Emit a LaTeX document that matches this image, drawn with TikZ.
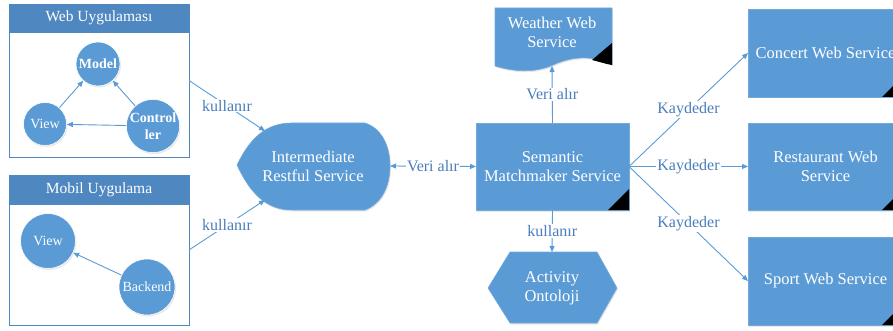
\documentclass[tikz,border=0pt]{standalone}
\usepackage{fontspec}
\setmainfont{Liberation Serif}
\usetikzlibrary{arrows.meta,shadows}
\definecolor{boxblue}{HTML}{5B9BD5}
\definecolor{hdrblue}{HTML}{4F87C0}
\definecolor{lblblue}{HTML}{4A7EBB}
\definecolor{linblue}{HTML}{5B9BD5}
\newcommand\fbig{\fontsize{16.5pt}{19pt}\selectfont}
\newcommand\fhdr{\fontsize{15.5pt}{18pt}\selectfont}
\newcommand\fcirc{\fontsize{14pt}{16.5pt}\selectfont}
\newcommand\flbl{\fontsize{16pt}{18pt}\selectfont}
\begin{document}
\begin{tikzpicture}[x=1pt,y=-1pt,
  shp/.style={fill=boxblue, draw=boxblue!85!white, line width=0.6pt,
    drop shadow={opacity=0.18, shadow xshift=1pt, shadow yshift=-1.5pt}},
  crc/.style={circle, fill=boxblue, draw=white, line width=0.6pt, text=white,
    inner sep=0pt, align=center, font=\fcirc,
    drop shadow={opacity=0.18, shadow xshift=1pt, shadow yshift=-1.5pt}},
  txt/.style={text=white, align=center, font=\fbig, inner sep=0pt},
  frame/.style={draw=hdrblue, line width=0.8pt, fill=white, inner sep=0pt, outer sep=0pt},
  hdr/.style={fill=hdrblue, draw=hdrblue, line width=0.8pt, text=white, font=\fhdr, inner sep=0pt, outer sep=0pt},
  rbox/.style={shp, rectangle, inner sep=0pt, outer sep=0pt, text=white, align=center, font=\fbig},
  conn/.style={draw=linblue, line width=0.9pt, -{Triangle[length=6pt,width=5pt]}},
  dconn/.style={draw=linblue, line width=0.9pt, {Triangle[length=6pt,width=5pt]}-{Triangle[length=6pt,width=5pt]}},
  lbl/.style={fill=white, text=lblblue, font=\flbl, inner sep=1pt}
]
\useasboundingbox (0,0) rectangle (893,331);
\clip (0,0) rectangle (893,331);

% Web Uygulamasi
\node[frame, minimum width=180pt, minimum height=153pt] (web) at (99,80.5) {};
\node[hdr, minimum width=180pt, minimum height=28pt] (webhdr) at (99,18) {Web Uygulaması};
\node[crc, minimum size=44pt, font=\fcirc\bfseries] (model) at (98,64) {Model};
\node[crc, minimum size=43pt] (wview) at (45,124) {View};
\node[crc, minimum size=47pt, font=\fcirc\bfseries] (ctrl) at (153,126) {Control\\ler};
\draw[conn] (wview) -- (model);
\draw[conn] (ctrl) -- (model);
\draw[conn] (ctrl) -- (wview);

% Mobil Uygulama
\node[frame, minimum width=180pt, minimum height=150pt] (mob) at (99,250) {};
\node[hdr, minimum width=180pt, minimum height=29pt] (mobhdr) at (99,189.5) {Mobil Uygulama};
\node[crc, minimum size=55pt] (mview) at (48,241) {View};
\node[crc, minimum size=56pt] (back) at (147,287) {Backend};
\draw[conn] (back) -- (mview);

% Intermediate Restful Service
\path[shp] (237,165) .. controls (250,138) and (266,123) .. (292,123) -- (365,123)
  .. controls (381,128) and (390,145) .. (390,166)
  .. controls (390,187) and (381,204) .. (365,210) -- (292,210)
  .. controls (266,210) and (250,193) .. (237,165) -- cycle;
\node[txt] (irs) at (313,166) {Intermediate\\Restful Service};
\coordinate (irsA) at (265,131);
\coordinate (irsB) at (265,200);
\coordinate (irsE) at (390,166);

% Semantic Matchmaker Service
\node[rbox, minimum width=153pt, minimum height=87pt] (sem) at (552.5,166.5) {Semantic\\Matchmaker Service};
\fill[black] (608,210) -- (629,189) -- (629,210) -- cycle;

% Weather Web Service
\path[shp] (495,8) -- (612,8) -- (612,65)
  .. controls (595,56) and (575,55) .. (553,65)
  .. controls (535,73) and (515,72) .. (495,66) -- cycle;
\fill[black] (592,60) .. controls (600,62) and (606,64) .. (612,65) -- (612,43) -- cycle;
\node[txt] (wth) at (552,32) {Weather Web\\Service};
\coordinate (wthS) at (552,66);

% Activity Ontoloji
\path[shp] (488,288) -- (510,252) -- (597,252) -- (617,288) -- (597,323) -- (510,323) -- cycle;
\node[txt] (act) at (552,288) {Activity\\Ontoloji};
\coordinate (actN) at (552,252);

% Right boxes
\node[rbox, minimum width=155pt, minimum height=88pt] (conc) at (825.5,53) {Concert Web Service};
\fill[black] (882,97) -- (903,76) -- (903,97) -- cycle;
\node[rbox, minimum width=155pt, minimum height=87pt] (rest) at (825.5,166.5) {Restaurant Web\\Service};
\fill[black] (882,210) -- (903,189) -- (903,210) -- cycle;
\node[rbox, minimum width=155pt, minimum height=88pt] (sport) at (825.5,281) {Sport Web Service};
\fill[black] (882,325) -- (903,304) -- (903,325) -- cycle;

% Connectors
\draw[conn] (web.east) -- node[lbl] {kullanır} (irsA);
\draw[conn] (mob.east) -- node[lbl] {kullanır} (irsB);
\draw[dconn] (irsE) -- node[lbl] {Veri alır} (sem.west);
\draw[conn] (sem.north) -- node[lbl] {Veri alır} (wthS);
\draw[conn] (sem.south) -- node[lbl] {kullanır} (actN);
\draw[conn] (sem.east) -- node[lbl] {Kaydeder} (conc.west);
\draw[conn] (sem.east) -- node[lbl] {Kaydeder} (rest.west);
\draw[conn] (sem.east) -- node[lbl] {Kaydeder} (sport.west);
\end{tikzpicture}
\end{document}
